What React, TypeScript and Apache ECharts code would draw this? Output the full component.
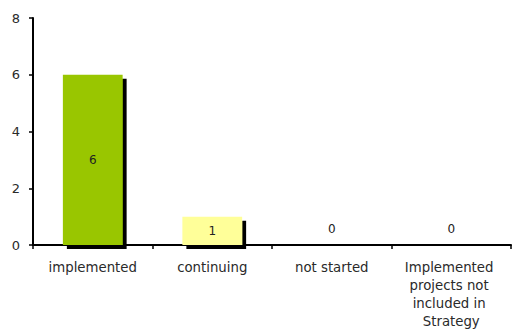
import React, { useEffect, useRef } from "react";
import * as echarts from "echarts";

const categories = [
  "implemented",
  "continuing",
  "not started",
  "Implemented projects not included in Strategy",
];
const values = [6, 1, 0, 0];
const barColors = ["#99c600", "#ffff99", "#99c600", "#99c600"];
const yTicks = [0, 2, 4, 6, 8];

export default function App() {
  const ref = useRef<HTMLDivElement>(null);
  useEffect(() => {
    if (!ref.current) return;
    const chart = echarts.init(ref.current, undefined, { renderer: "svg" });
    const font = "DejaVu Sans";
    chart.setOption({
      animation: false,
      grid: {
        left: 33,
        right: 1,
        top: 18,
        bottom: 85,
        containLabel: false,
        outerBoundsMode: "none",
      },
      xAxis: {
        type: "category",
        data: categories,
        axisLine: { lineStyle: { color: "#000", width: 2 } },
        axisTick: { show: true, length: 4, lineStyle: { color: "#000", width: 1.5 } },
        axisLabel: {
          interval: 0,
          margin: 13,
          color: "#2a2a2a",
          fontFamily: font,
          fontSize: 13.3,
          lineHeight: 18,
          width: 104,
          overflow: "break",
        },
      },
      yAxis: {
        type: "value",
        min: yTicks[0],
        max: yTicks[yTicks.length - 1],
        interval: 2,
        splitLine: { show: false },
        axisLine: { show: true, lineStyle: { color: "#000", width: 2 } },
        axisTick: { show: true, length: 4, lineStyle: { color: "#000", width: 1.5 } },
        axisLabel: {
          margin: 13,
          color: "#2a2a2a",
          fontFamily: font,
          fontSize: 13,
        },
      },
      series: [
        {
          type: "bar",
          barWidth: "50%",
          data: values.map((v, i) => ({
            value: v,
            itemStyle: { color: barColors[i] },
            label:
              v === 0
                ? { position: "top", distance: 10 }
                : { position: "inside" },
          })),
          itemStyle: {
            shadowColor: "#000",
            shadowBlur: 0,
            shadowOffsetX: 4,
            shadowOffsetY: 4,
          },
          label: {
            show: true,
            color: "#222",
            fontFamily: font,
            fontSize: 12,
          },
        },
      ],
    });
    return () => chart.dispose();
  }, []);
  return (
    <div
      ref={ref}
      style={{ position: "absolute", left: 0, top: 0, width: 512, height: 330 }}
    />
  );
}
